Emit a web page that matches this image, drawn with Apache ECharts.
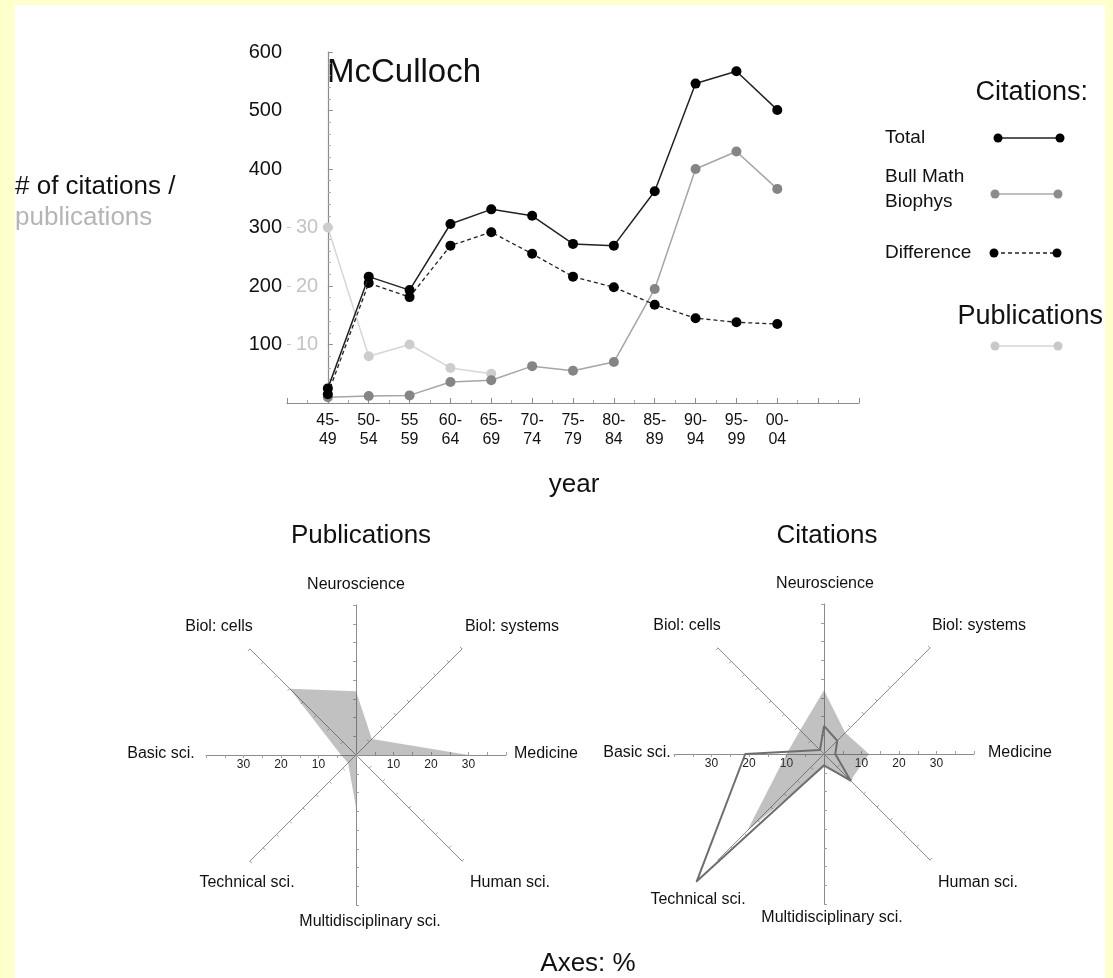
<!DOCTYPE html>
<html>
<head>
<meta charset="utf-8">
<script src="https://cdn.jsdelivr.net/npm/echarts@6/dist/echarts.min.js"></script>
<style>
html,body{margin:0;padding:0;background:#FFFFCC;width:1113px;height:978px;overflow:hidden;}
#panel{position:absolute;left:15px;top:5px;width:1090px;height:973px;background:#ffffff;}
#chart{position:absolute;left:0;top:0;width:1113px;height:978px;}
</style>
</head>
<body>
<div id="panel"></div>
<div id="chart"></div>
<script>
// ---------------- DATA ----------------
const periods = ['45-\n49','50-\n54','55\n59','60-\n64','65-\n69','70-\n74','75-\n79','80-\n84','85-\n89','90-\n94','95-\n99','00-\n04'];
const totalCitations      = [25, 216, 193, 306, 331, 320, 272, 269, 362, 546, 567, 501];
const bullMathCitations   = [10, 12, 13, 36, 39, 63, 55, 70, 195, 400, 430, 366];
const differenceCitations = [15, 205, 181, 269, 292, 255, 216, 198, 168, 145, 138, 135];
const publications        = [30, 8, 10, 6, 5];
const citationTicks = [100, 200, 300, 400, 500, 600];
const publicationTicks = [10, 20, 30];

// radar fields, clockwise from top
const fields = ['Neuroscience','Biol: systems','Medicine','Human sci.','Multidisciplinary sci.','Technical sci.','Basic sci.','Biol: cells'];
const publicationShare = [17, 6, 30, 0, 14, 3, 4, 25];
const citationShare    = [17, 8, 12, 10, 3.5, 29, 10, 9];
const citationLineShare= [7.5, 5, 3, 10, 3, 48, 21, 1.5];
const radarTickLabels  = [10, 20, 30];

// ---------------- LAYOUT ----------------
const FONT = '"Liberation Sans", Arial, Helvetica, sans-serif';
const L = {
  grid: {left: 287, top: 52, right: 254, bottom: 575},
  xMin: -1, xMax: 13,
  radarR: 150,
  radarL: {cx: 356, cy: 755},
  radarRt: {cx: 824, cy: 754},
  // label offsets relative to radar centre, clockwise order like `fields`
  labL: [[0,-170],[156,-128],[190,-1],[154,128],[14,167],[-109,128],[-195,-1],[-137,-128]],
  labR: [[1,-170],[155,-128],[196,-1],[154,129],[8,164],[-126,146],[-187,-1],[-137,-128]]
};
// ECharts radar goes counter-clockwise from the top
const ccw = [0,7,6,5,4,3,2,1];
const reorder = arr => ccw.map(i => arr[i]);

const chart = echarts.init(document.getElementById('chart'), null, {renderer: 'canvas'});

function txt(x, y, text, size, color, align) {
  return {type:'text', x:x, y:y, silent:true,
    style:{text:text, fill:color||'#111', font: size+'px '+FONT, align:align||'center', verticalAlign:'middle'}};
}
function legendSample(x1, x2, y, lineColor, dotColor, dash) {
  return [
    {type:'line', silent:true, shape:{x1:x1,y1:y,x2:x2,y2:y}, style:{stroke:lineColor, lineWidth:1.5, lineDash: dash||null}},
    {type:'circle', silent:true, shape:{cx:x1,cy:y,r:4.5}, style:{fill:dotColor}},
    {type:'circle', silent:true, shape:{cx:x2,cy:y,r:4.5}, style:{fill:dotColor}}
  ];
}

const graphics = [
  txt(327, 73, 'McCulloch', 33, '#111', 'left'),
  txt(15, 187, '# of citations /', 26, '#111', 'left'),
  txt(15, 218, 'publications', 26, '#b5b5b5', 'left'),
  txt(574, 485, 'year', 26, '#111'),
  txt(1088, 93, 'Citations:', 27, '#111', 'right'),
  txt(885, 138, 'Total', 19, '#111', 'left'),
  txt(885, 177, 'Bull Math', 19, '#111', 'left'),
  txt(885, 202, 'Biophys', 19, '#111', 'left'),
  txt(885, 253, 'Difference', 19, '#111', 'left'),
  txt(1103, 317, 'Publications', 27, '#111', 'right'),
  ...legendSample(998, 1060, 138, '#222', '#000'),
  ...legendSample(995, 1058, 194, '#aaa', '#8c8c8c'),
  ...legendSample(994, 1057, 253, '#222', '#000', [4,3]),
  ...legendSample(995, 1058, 346, '#d4d4d4', '#c8c8c8'),
  txt(361, 536, 'Publications', 26, '#111'),
  txt(827, 536, 'Citations', 26, '#111'),
  txt(588, 964, 'Axes: %', 26, '#111')
];
fields.forEach((f, i) => {
  graphics.push(txt(L.radarL.cx + L.labL[i][0], L.radarL.cy + L.labL[i][1], f, 16, '#111'));
  graphics.push(txt(L.radarRt.cx + L.labR[i][0], L.radarRt.cy + L.labR[i][1], f, 16, '#111'));
});

function radarComp(c) {
  return {
    center: [c.cx, c.cy], radius: L.radarR, startAngle: 90, shape: 'polygon', splitNumber: 8,
    indicator: reorder(fields).map(n => ({name: n, min: 0, max: 40})),
    axisName: {show: false},
    axisLine: {show: true, lineStyle: {color: '#8c8c8c', width: 1}},
    axisTick: {show: true, length: 3, lineStyle: {color: '#a0a0a0'}},
    axisLabel: {show: false},
    splitLine: {show: false},
    splitArea: {show: false}
  };
}
function tickGrid(c) {
  return {left: c.cx - L.radarR, top: c.cy - 10, width: 2 * L.radarR, height: 10};
}
function tickAxis(gi) {
  return {
    type: 'value', gridIndex: gi, min: -40, max: 40, interval: 10, position: 'bottom',
    axisLine: {show: false}, axisTick: {show: false}, splitLine: {show: false},
    axisLabel: {
      color: '#222', fontSize: 12, fontFamily: FONT, margin: 4,
      customValues: radarTickLabels.map(v => -v).concat(radarTickLabels),
      formatter: v => String(Math.abs(v))
    }
  };
}

const option = {
  animation: false,
  backgroundColor: 'transparent',
  textStyle: {fontFamily: FONT},
  graphic: graphics,
  grid: [
    {left: L.grid.left, top: L.grid.top, right: L.grid.right, bottom: L.grid.bottom},
    tickGrid(L.radarL),
    tickGrid(L.radarRt)
  ],
  xAxis: [
    {
      type: 'value', gridIndex: 0, min: L.xMin, max: L.xMax, interval: 1,
      axisLine: {show: true, onZero: false, lineStyle: {color: '#8c8c8c', width: 1.2}},
      axisTick: {show: true, inside: true, length: 5, lineStyle: {color: '#8c8c8c'}},
      minorTick: {show: true, splitNumber: 2, length: 3, lineStyle: {color: '#aaa'}},
      splitLine: {show: false},
      axisLabel: {
        color: '#111', fontSize: 16, fontFamily: FONT, margin: 8, lineHeight: 19,
        formatter: v => (Number.isInteger(v) && v >= 0 && v < periods.length) ? periods[v] : ''
      }
    },
    tickAxis(1),
    tickAxis(2)
  ],
  yAxis: [
    {
      type: 'value', gridIndex: 0, min: 0, max: 600, interval: 100, position: 'left',
      axisLine: {show: true, lineStyle: {color: '#8c8c8c', width: 1.2}},
      axisTick: {show: true, inside: true, length: 5, lineStyle: {color: '#8c8c8c'}},
      minorTick: {show: true, splitNumber: 5, length: 3, lineStyle: {color: '#aaa'}},
      splitLine: {show: false},
      axisLabel: {color: '#111', fontSize: 20, fontFamily: FONT, margin: 5, customValues: citationTicks}
    },
    {
      type: 'value', gridIndex: 0, min: 0, max: 60, interval: 10, position: 'left',
      axisLine: {show: false},
      axisTick: {show: true, inside: true, length: 4, lineStyle: {color: '#c8c8c8'}, customValues: publicationTicks},
      splitLine: {show: false},
      axisLabel: {inside: true, color: '#c4c4c4', fontSize: 20, fontFamily: FONT, margin: 9, customValues: publicationTicks}
    },
    {type: 'value', gridIndex: 1, show: false},
    {type: 'value', gridIndex: 2, show: false}
  ],
  radar: [radarComp(L.radarL), radarComp(L.radarRt)],
  series: [
    {
      name: 'Publications', type: 'line', xAxisIndex: 0, yAxisIndex: 1,
      data: publications.map((v, i) => [i, v]),
      symbol: 'circle', symbolSize: 10, z: 2,
      itemStyle: {color: '#cdcdcd'}, lineStyle: {color: '#d6d6d6', width: 1.5}
    },
    {
      name: 'Bull Math Biophys', type: 'line', xAxisIndex: 0, yAxisIndex: 0,
      data: bullMathCitations.map((v, i) => [i, v]),
      symbol: 'circle', symbolSize: 10, z: 3,
      itemStyle: {color: '#858585'}, lineStyle: {color: '#a5a5a5', width: 1.5}
    },
    {
      name: 'Difference', type: 'line', xAxisIndex: 0, yAxisIndex: 0,
      data: differenceCitations.map((v, i) => [i, v]),
      symbol: 'circle', symbolSize: 10, z: 4,
      itemStyle: {color: '#000'}, lineStyle: {color: '#222', width: 1.3, type: [4, 3]}
    },
    {
      name: 'Total', type: 'line', xAxisIndex: 0, yAxisIndex: 0,
      data: totalCitations.map((v, i) => [i, v]),
      symbol: 'circle', symbolSize: 10, z: 5,
      itemStyle: {color: '#000'}, lineStyle: {color: '#222', width: 1.5}
    },
    {
      type: 'radar', radarIndex: 0, symbol: 'none', z: 1,
      data: [{value: reorder(publicationShare), areaStyle: {color: 'rgba(80,80,80,0.5)'}, lineStyle: {opacity: 0}}]
    },
    {
      type: 'radar', radarIndex: 1, symbol: 'none', z: 1,
      data: [
        {value: reorder(citationShare), areaStyle: {color: 'rgba(80,80,80,0.5)'}, lineStyle: {opacity: 0}},
        {value: reorder(citationLineShare), lineStyle: {color: '#6e6e6e', width: 2}, areaStyle: {opacity: 0}}
      ]
    }
  ]
};
chart.setOption(option);
</script>
</body>
</html>
